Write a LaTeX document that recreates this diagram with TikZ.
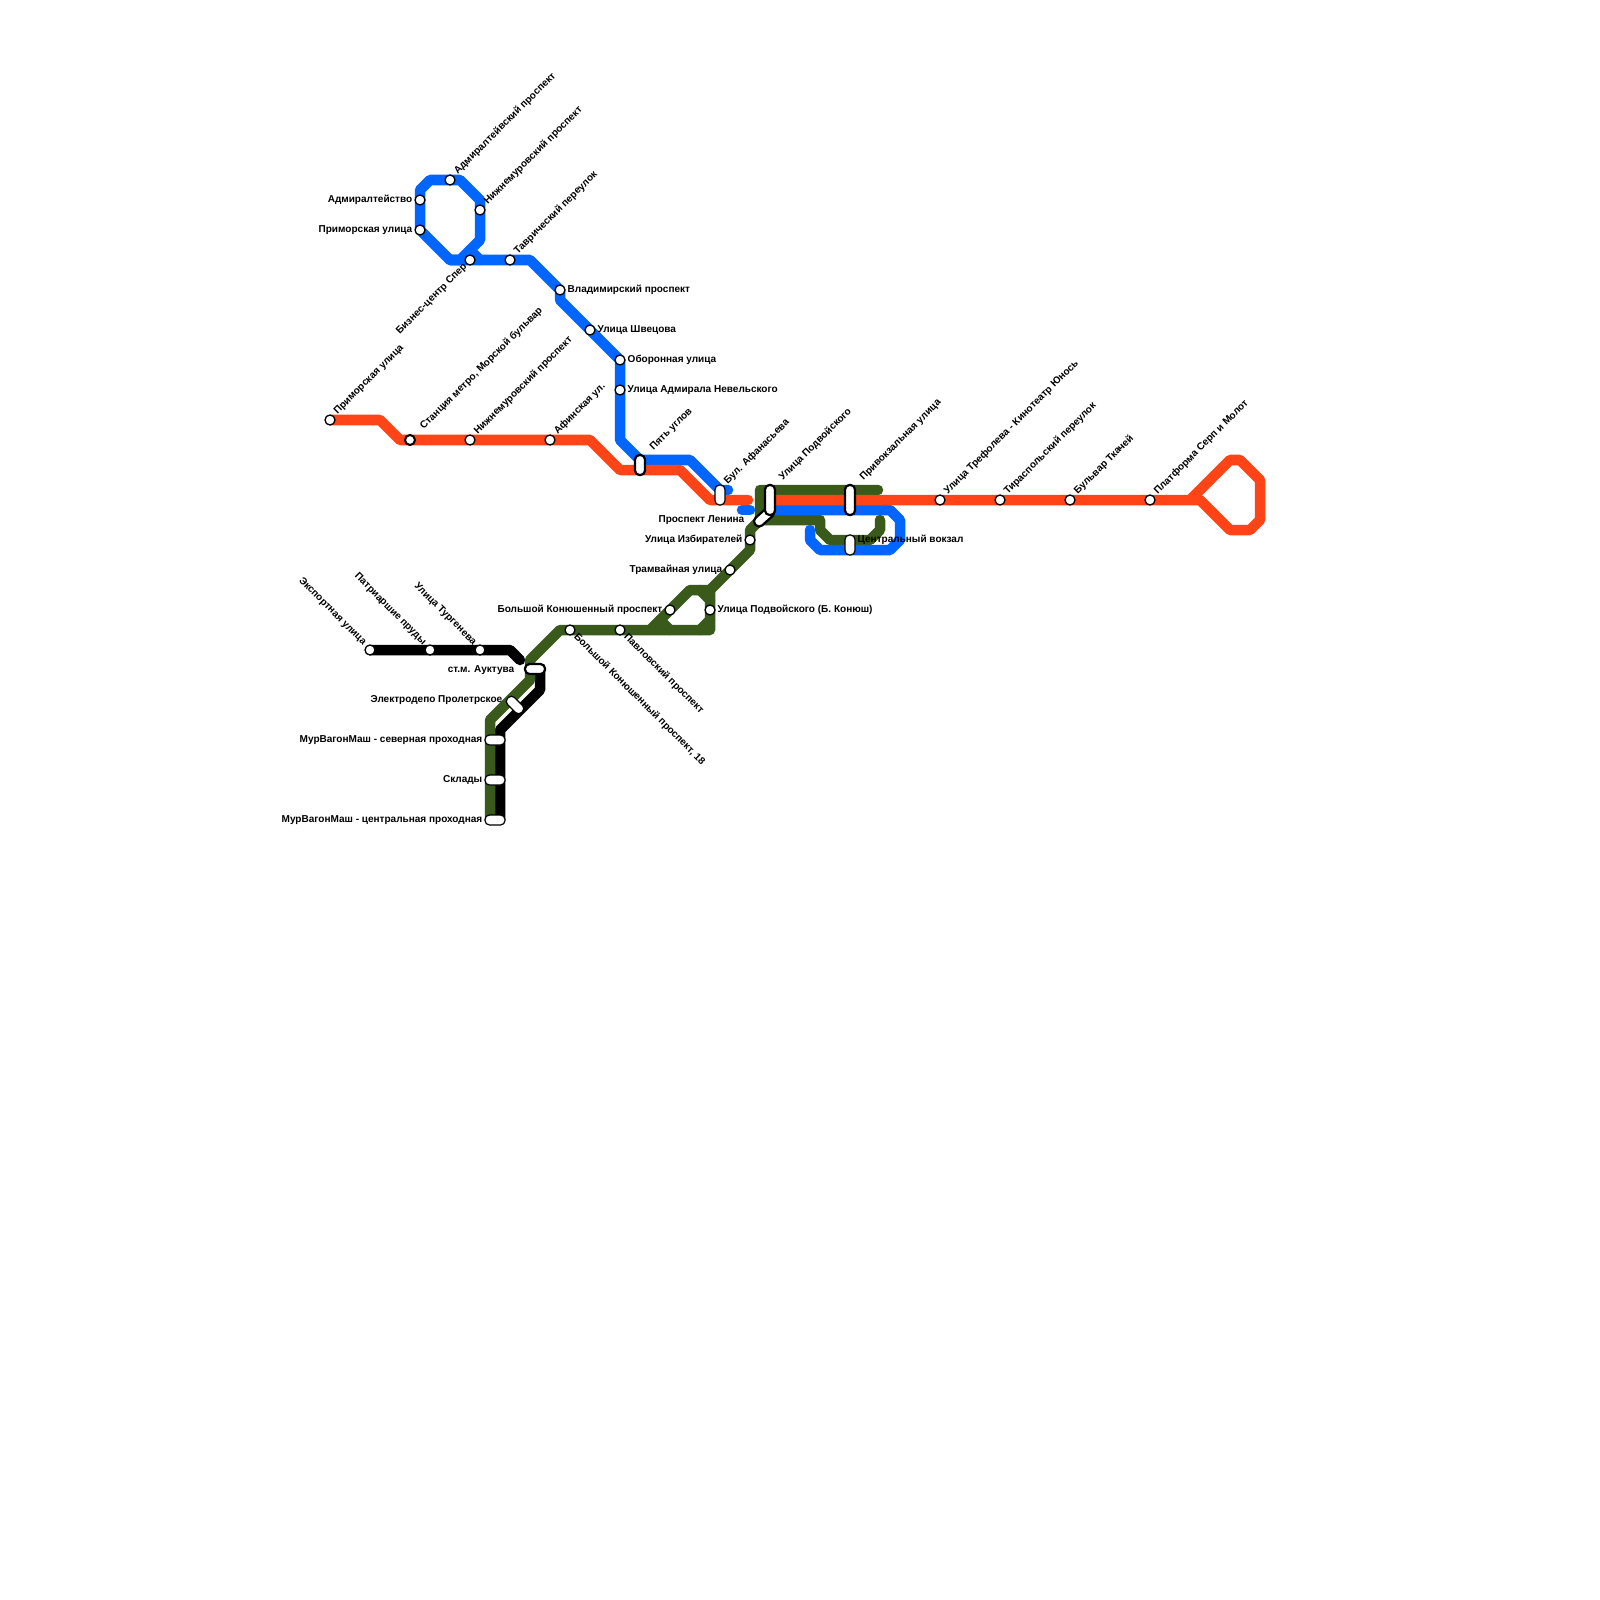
\documentclass[tikz,border=0pt]{standalone}
\usepackage{fontspec}
\setmainfont{Liberation Sans}
\usetikzlibrary{backgrounds}
\definecolor{lineblue}{RGB}{0,102,255}
\definecolor{linered}{RGB}{255,69,24}
\definecolor{linegreen}{RGB}{58,90,27}
\tikzset{
    metro/.style={line width=1.05mm, line cap=round, line join=round},
    stn/.style={circle, draw, fill=white, inner sep=0, minimum size=1mm, line width=0.13mm},
    stnthick/.style={stn, line width=0.2mm},
    pillthin/.style={rectangle, draw, fill=white, inner sep=0, rounded corners=0.45mm, line width=0.12mm},
    pillthick/.style={pillthin, line width=0.22mm},
    txt/.style={inner sep=0, font=\fontsize{2.85}{3.2}\selectfont\bfseries},
    tw/.style={txt, anchor=east, xshift=0.1mm, yshift=-0.1mm},
    te/.style={txt, anchor=west, xshift=-0.1mm, yshift=-0.1mm},
    tne/.style={txt, anchor=west, rotate=45, xshift=0.15mm, yshift=-0.2mm},
    tsw/.style={txt, anchor=east, rotate=45},
    tse/.style={txt, anchor=west, rotate=-45},
    tnw/.style={txt, anchor=east, rotate=-45, yshift=-0.15mm},
}
\begin{document}
\begin{tikzpicture}[x=0.01cm, y=-0.01cm]

    \useasboundingbox (0,0) rectangle (1600,1600);

    \node[stn] (admir) at (420,200) {};
    \node[stn] (primor) at (420,230) {};
    \node[stn] (admprosp) at (450,180) {};
    \node[stn] (nizhnA) at (480,210) {};
    \node[stn] (biznes) at (470,260) {};
    \node[stn] (tavr) at (510,260) {};
    \node[stn] (vlad) at (560,290) {};
    \node[stn] (shvec) at (590,330) {};
    \node[stn] (obor) at (620,360) {};
    \node[stn] (nevel) at (620,390) {};

    \node[stn] (primorB) at (330,420) {};
    \node[stnthick] (stancia) at (410,440) {};
    \node[stn] (nizhnB) at (470,440) {};
    \node[stn] (afin) at (550,440) {};
    \node[stn] (tref) at (940,500) {};
    \node[stn] (tirasp) at (1000,500) {};
    \node[stn] (bulvar) at (1070,500) {};
    \node[stn] (platf) at (1150,500) {};

    \node[stn] (izbir) at (750,540) {};
    \node[stn] (tramv) at (730,570) {};
    \node[stn] (konprosp) at (670,610) {};
    \node[stn] (podvkon) at (710,610) {};
    \node[stn] (konyush) at (570,630) {};
    \node[stn] (pavl) at (620,630) {};

    \node[stn] (exper) at (370,650) {};
    \node[stn] (patr) at (430,650) {};
    \node[stn] (turg) at (480,650) {};

    \node[pillthick, minimum width=1mm, minimum height=2mm] (pyat) at (640,465) {};
    \node[pillthin, minimum width=1mm, minimum height=2mm] (afan) at (720,495) {};
    \node[pillthick, minimum width=2.3mm, minimum height=1mm, rotate=42] (lenin) at (764,517) {};
    \node[pillthick, minimum width=1mm, minimum height=3mm] (podv) at (770,500) {};
    \node[pillthick, minimum width=1mm, minimum height=3mm] (privok) at (850,500) {};
    \node[pillthin, minimum width=1mm, minimum height=2mm] (centr) at (850,545) {};
    \node[pillthick, minimum width=2mm, minimum height=1mm] (aukt) at (535,669) {};
    \node[pillthin, minimum width=2mm, minimum height=1mm, rotate=-45] (elektro) at (515,705) {};
    \node[pillthin, minimum width=2mm, minimum height=1mm] (murA) at (495,740) {};
    \node[pillthin, minimum width=2mm, minimum height=1mm] (sklad) at (495,780) {};
    \node[pillthin, minimum width=2mm, minimum height=1mm] (murB) at (495,820) {};

    \begin{pgfonlayer}{background}
        \draw[metro, black] (exper.center) -- (turg.center) -- (510,650) -- (520,660);
        \draw[metro, black] (500,820) -- (500,730) -- (540,690) -- (540,670);

        \draw[metro, linegreen] (490,820) -- (490,720) -- (530,680) -- (530,660) -- (560,630) -- (710,630) -- (710,590) -- (690,590) -- (650,630);
        \draw[metro, linegreen] (660,620) -- (670,630);
        \draw[metro, linegreen] (700,590) -- (710,600);
        \draw[metro, linegreen] (700,630) -- (710,620);
        \draw[metro, linegreen] (710,590) -- (750,550) -- (750,530) -- (760,520) -- (760,490) -- (878,490);
        \draw[metro, linegreen] (760,520) -- (820,520) -- (820,530) -- (830,540) -- (870,540) -- (880,530) -- (880,520);

        \draw[metro, lineblue] (primor.center) -- (admir.center) -- (420,190) -- (430,180) -- (460,180) -- (480,200) -- (480,240) -- (460,260) -- (450,260) -- (primor.center);
        \draw[metro, lineblue] (470,250) -- (480,260);
        \draw[metro, lineblue] (450,260) -- (530,260) -- (560,290) -- (560,300) -- (620,360) -- (620,440) -- (640,460) -- (690,460) -- (720,490) -- (728,490);
        \draw[metro, lineblue] (742,510) -- (750,510);
        \draw[metro, lineblue] (770,510) -- (890,510) -- (900,520) -- (900,540) -- (890,550) -- (820,550) -- (810,540) -- (810,530);

        \draw[metro, linered] (primorB.center) -- (380,420) -- (400,440) -- (590,440) -- (620,470) -- (680,470) -- (710,500) -- (748,500);
        \draw[metro, linered] (podv.center) -- (1190,500) -- (1230,460) -- (1240,460) -- (1260,480) -- (1260,520) -- (1250,530) -- (1230,530) -- (1200,500) -- (1190,500);
    \end{pgfonlayer}

    \node[tw] (admir-t) at (412,199) {Адмиралтейство};
    \node[tw] (primor-t) at (412,229) {Приморская улица};
    \node[tne] (admprosp-t) at (453,173) {Адмиралтейвский проспект};
    \node[tne] (nizhnA-t) at (483,203) {Нижнемуровский проспект};
    \node[tsw] (biznes-t) at (466,265) {Бизнес-центр Спер};
    \node[tne] (tavr-t) at (513,253) {Таврический переулок};
    \node[te] (vlad-t) at (568,289) {Владимирский проспект};
    \node[te] (shvec-t) at (598,329) {Улица Швецова};
    \node[te] (obor-t) at (628,359) {Оборонная улица};
    \node[te] (nevel-t) at (628,389) {Улица Адмирала Невельского};

    \node[tne] (primorB-t) at (333,413) {Приморская улица};
    \node[tne] (stancia-t) at (419,428) {Станция метро, Морской бульвар};
    \node[tne] (nizhnB-t) at (473,433) {Нижнемуровский проспект};
    \node[tne] (afin-t) at (553,433) {Афинская ул.};
    \node[tne] (pyat-t) at (649,449) {Пять углов};
    \node[tne] (afan-t) at (723,483) {Бул. Афанасьева};
    \node[tne] (podv-t) at (778,479) {Улица Подвойского};
    \node[tne] (privok-t) at (859,479) {Привокзальная улица};
    \node[tne] (tref-t) at (943,493) {Улица Трефолева - Кинотеатр Юнось};
    \node[tne] (tirasp-t) at (1003,493) {Тираспольский переулок};
    \node[tne] (bulvar-t) at (1073,493) {Бульвар Ткачей};
    \node[tne] (platf-t) at (1153,493) {Платформа Серп и Молот};

    \node[tw] (lenin-t) at (744,519) {Проспект Ленина};
    \node[te] (centr-t) at (858,539) {Центральный вокзал};
    \node[tw] (izbir-t) at (742,539) {Улица Избирателей};
    \node[tw] (tramv-t) at (722,569) {Трамвайная улица};
    \node[tw] (konprosp-t) at (662,609) {Большой Конюшенный проспект};
    \node[te] (podvkon-t) at (718,609) {Улица Подвойского (Б. Конюш)};
    \node[tse] (konyush-t) at (575,635) {Большой Конюшенный проспект, 18};
    \node[tse] (pavl-t) at (625,635) {Павловский проспект};

    \node[tnw] (exper-t) at (366,643) {Экспортная улица};
    \node[tnw] (patr-t) at (426,643) {Патриаршие пруды};
    \node[tnw] (turg-t) at (476,643) {Улица Тургенева};
    \node[tw] (aukt-t) at (514,669) {ст.м. Ауктува};
    \node[tw] (elektro-t) at (502,699) {Электродепо Пролетрское};
    \node[tw] (murA-t) at (482,739) {МурВагонМаш - северная проходная};
    \node[tw] (sklad-t) at (482,779) {Склады};
    \node[tw] (murB-t) at (482,819) {МурВагонМаш - центральная проходная};

\end{tikzpicture}
\end{document}
